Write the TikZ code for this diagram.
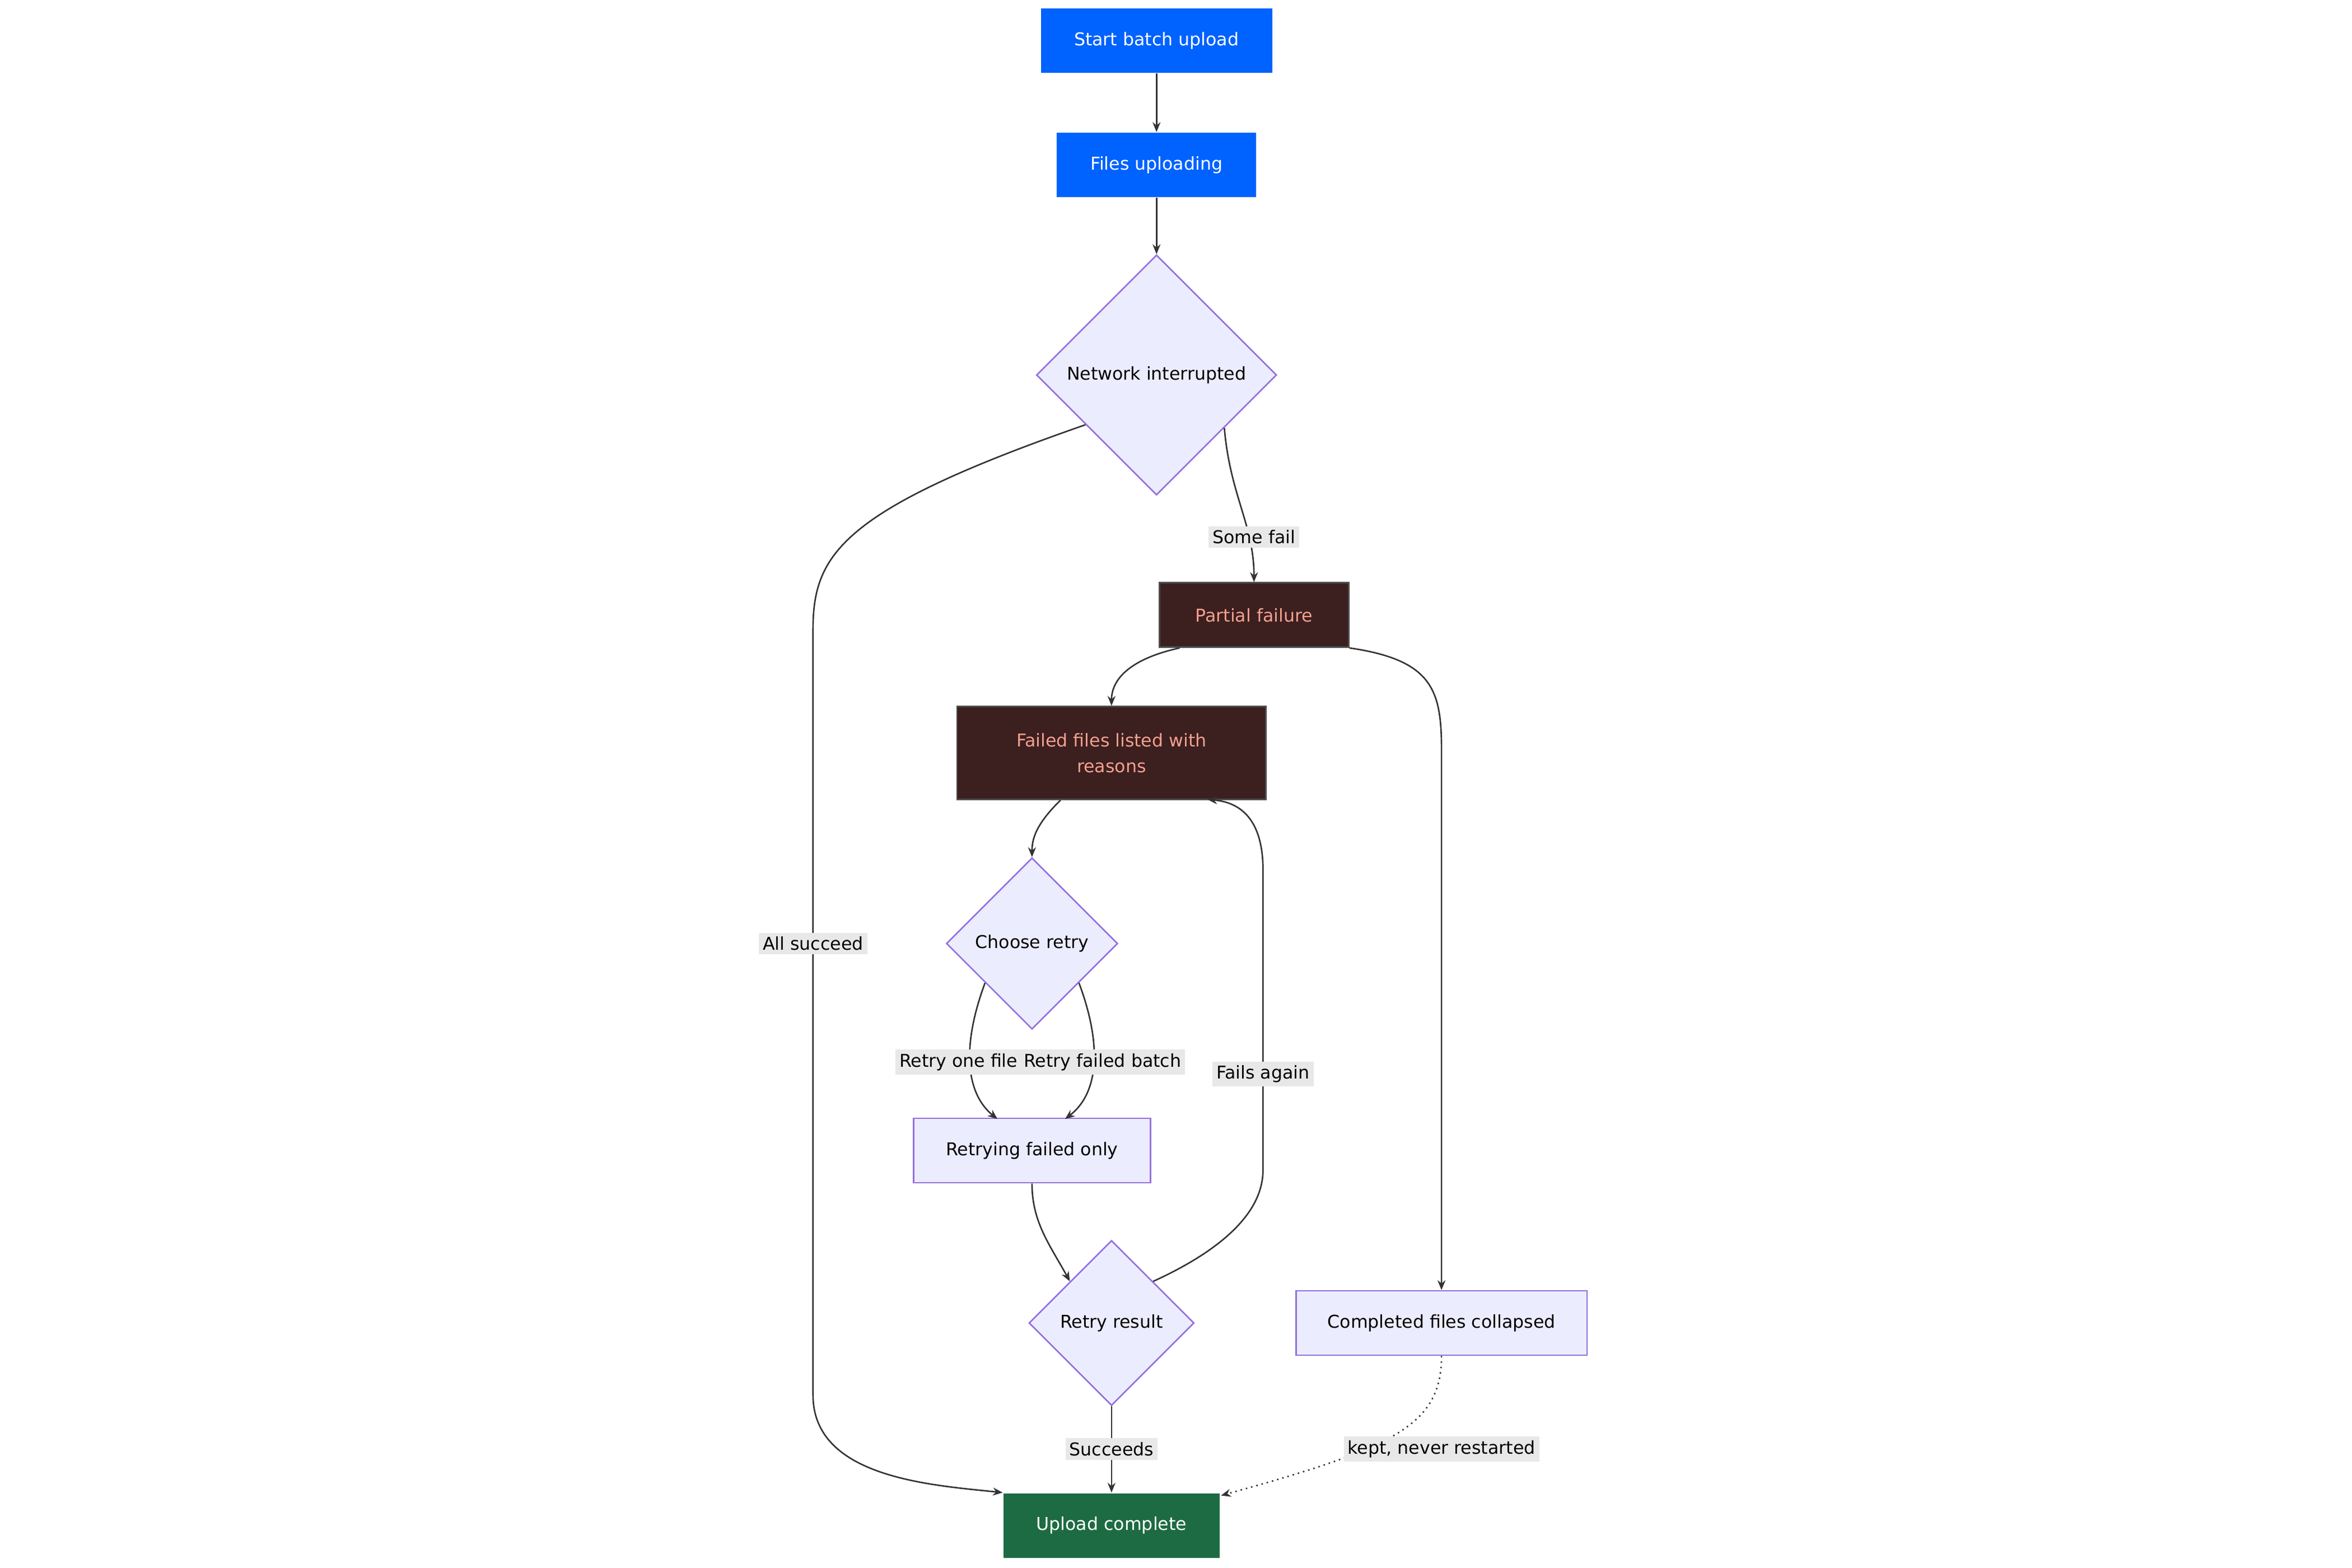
\documentclass[tikz,border=0pt]{standalone}
\usepackage{fontspec}
\setmainfont{DejaVu Sans}
\usetikzlibrary{arrows.meta,shapes.geometric}
\definecolor{mblue}{HTML}{0062FF}
\definecolor{mgreen}{HTML}{1D6B42}
\definecolor{mdark}{HTML}{3C1F1F}
\definecolor{msalmon}{HTML}{F4A08F}
\definecolor{mlav}{HTML}{ECECFF}
\definecolor{mpurple}{HTML}{9370DB}
\definecolor{mlabel}{HTML}{E8E8E8}

\begin{document}
\begin{tikzpicture}[x=0.0268cm, y=-0.0268cm, line width=0.75pt,
    font=\fontsize{9}{13}\selectfont,
    blue box/.style={fill=mblue, text=white, minimum height=1.15cm, inner sep=0pt},
    fail box/.style={fill=mdark, draw=black!70, text=msalmon, minimum height=1.15cm, inner sep=0pt, align=center},
    plain box/.style={fill=mlav, draw=mpurple, minimum height=1.15cm, inner sep=0pt},
    done box/.style={fill=mgreen, text=white, minimum height=1.15cm, inner sep=0pt},
    choice/.style={diamond, aspect=1, fill=mlav, draw=mpurple, inner sep=0pt},
    link/.style={draw=black!80, -{Stealth[length=5pt,width=4pt]}},
    tag/.style={fill=mlabel, inner sep=2pt}]

  \useasboundingbox (0,0) rectangle (1568,1045);

  % Nodes
  \node[blue box, minimum width=4.13cm] (start) at (771,27) {Start batch upload};
  \node[blue box, minimum width=3.56cm] (upload) at (771,110) {Files uploading};
  \node[choice, minimum size=4.29cm] (net) at (771,250) {Network interrupted};
  \node[fail box, minimum width=3.38cm] (partial) at (836,410) {Partial failure};
  \node[fail box, minimum width=5.52cm, minimum height=1.66cm] (listed) at (741,502) {Failed files listed with\\reasons};
  \node[choice, minimum size=3.06cm] (choose) at (688,629) {Choose retry};
  \node[plain box, minimum width=4.23cm] (retrying) at (688,767) {Retrying failed only};
  \node[choice, minimum size=2.95cm] (result) at (741,882) {Retry result};
  \node[plain box, minimum width=5.2cm] (collapsed) at (961,882) {Completed files collapsed};
  \node[done box, minimum width=3.86cm] (done) at (741,1017) {Upload complete};

  % Connectors
  \draw[link] (start) -- (upload);
  \draw[link] (upload) -- (net);
  \draw[link] (net.-145) .. controls (560,340) and (542,370) .. (542,420) -- (542,930)
    .. controls (542,985) and (620,990) .. (done.north west);
  \node[tag] (allsucceed) at (542,629) {All succeed};
  \draw[link] (net.-38) .. controls (820,330) and (836,350) .. (partial.north);
  \node[tag] (somefail) at (836,358) {Some fail};
  \draw[link] (partial.south west) ++(14,0) .. controls (750,440) and (741,455) .. (listed.north);
  \draw[link] (partial.south east) .. controls (955,440) and (961,460) .. (961,500) -- (collapsed.north);
  \draw[link] (listed.south) ++(-34,0) .. controls (690,550) and (688,560) .. (choose.north);
  \draw[link] (choose.-140) .. controls (640,700) and (645,730) .. (665,746);
  \node[tag] (retryone) at (639,708) {Retry one file};
  \draw[link] (choose.-40) .. controls (736,700) and (731,730) .. (710,746);
  \node[tag] (retrybatch) at (735,708) {Retry failed batch};
  \draw[link] (retrying.south) .. controls (688,815) and (700,830) .. (result.135);
  \draw[link] (result.45) .. controls (800,840) and (842,815) .. (842,780) -- (842,580)
    .. controls (842,550) and (830,535) .. (805,533);
  \node[tag] (failsagain) at (842,716) {Fails again};
  \draw[link] (result.south) -- (done.north);
  \node[tag] (succeeds) at (741,966) {Succeeds};
  \draw[link, dotted] (collapsed.south) .. controls (961,950) and (930,965) .. (814,997);
  \node[tag] (kept) at (961,966) {kept, never restarted};
\end{tikzpicture}
\end{document}
